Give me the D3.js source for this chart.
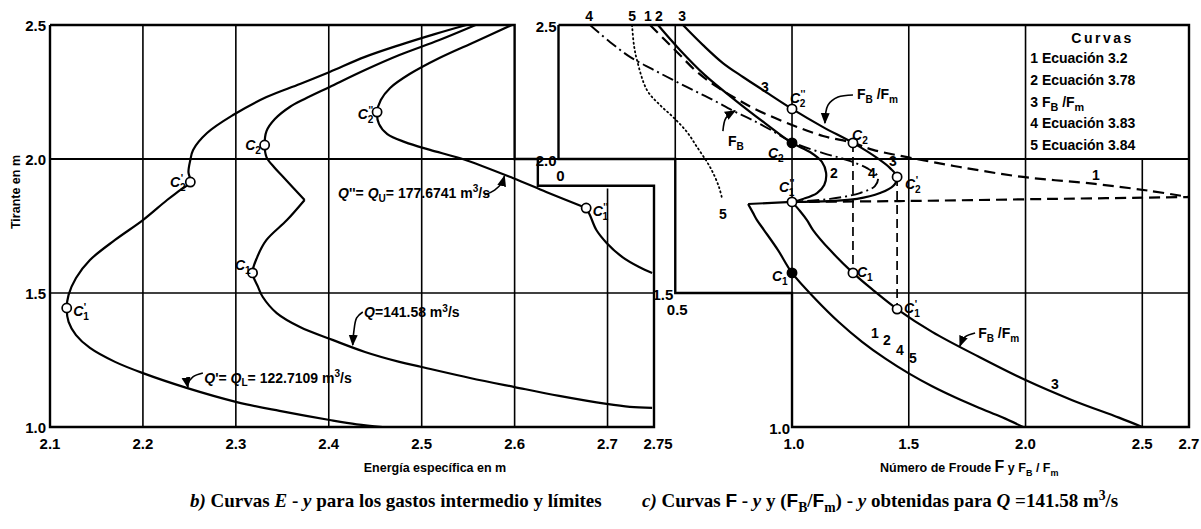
<!DOCTYPE html>
<html>
<head>
<meta charset="utf-8">
<script src="https://cdn.jsdelivr.net/npm/d3@7"></script>
<style>
  body { margin: 0; background: #fff; }
  svg { display: block; }
  .lbl { font-family: 'Liberation Sans', Arial, sans-serif; font-weight: bold; font-size: 15px; fill: #000; }
  .note { font-family: 'Liberation Sans', Arial, sans-serif; font-weight: bold; font-size: 14px; fill: #000; }
  .cap { font-family: 'Liberation Serif', 'Times New Roman', serif; font-weight: bold; font-size: 19px; fill: #000; }
  .ttl { font-family: 'Liberation Sans', Arial, sans-serif; font-weight: bold; font-size: 12.5px; fill: #000; }
</style>
</head>
<body>
<svg id="chart" width="1201" height="529"></svg>
<script>
// ---------- b) E - y curves  [E, y]
var energyTicks = [2.1, 2.2, 2.3, 2.4, 2.5, 2.6, 2.7, 2.75];
var depthTicks = [1.0, 1.5, 2.0, 2.5];

// Q' = QL = 122.7109 m3/s
var curveQL = [[2.548,2.5],[2.514,2.466],[2.476,2.425],[2.439,2.381],[2.401,2.325],[2.369,2.280],
  [2.333,2.231],[2.297,2.164],[2.269,2.097],[2.254,2.034],[2.251,1.996],[2.249,1.951],[2.251,1.914],
  [2.240,1.884],[2.226,1.847],[2.200,1.772],[2.170,1.698],[2.143,1.623],[2.128,1.556],[2.120,1.493],
  [2.118,1.444],[2.120,1.392],[2.128,1.343],[2.143,1.295],[2.170,1.243],[2.200,1.201],[2.247,1.146],
  [2.301,1.093],[2.347,1.060],[2.401,1.026],[2.430,1.010],[2.458,1.0]];
// Q = 141.58 m3/s (upper part ends at the break)
var curveQUp = [[2.558,2.5],[2.519,2.444],[2.476,2.388],[2.439,2.332],[2.401,2.269],[2.374,2.224],
  [2.358,2.194],[2.342,2.149],[2.333,2.104],[2.331,2.052],[2.333,2.007],[2.341,1.970],[2.351,1.933],
  [2.374,1.847]];
var curveQLow = [[2.374,1.847],[2.355,1.772],[2.333,1.698],[2.323,1.634],[2.318,1.575],[2.324,1.522],
  [2.329,1.485],[2.344,1.425],[2.369,1.373],[2.404,1.325],[2.439,1.280],[2.476,1.243],[2.500,1.224],
  [2.552,1.183],[2.600,1.149],[2.648,1.116],[2.699,1.086],[2.724,1.075],[2.748,1.071]];
// Q'' = QU = 177.6741 m3/s
var curveQU = [[2.597,2.5],[2.557,2.437],[2.519,2.377],[2.487,2.317],[2.466,2.265],[2.456,2.220],
  [2.452,2.175],[2.454,2.131],[2.463,2.093],[2.482,2.063],[2.509,2.034],[2.544,2.0],[2.598,1.929],
  [2.634,1.877],[2.677,1.817]];
var curveQUDown = [[2.677,1.817],[2.681,1.791],[2.688,1.735],[2.699,1.687],[2.716,1.634],
  [2.734,1.597],[2.748,1.575]];
var pointsE = [[2.251,1.914],[2.331,2.052],[2.452,2.175],[2.118,1.444],[2.318,1.575],[2.677,1.817]];

// ---------- c) F - y curves  [F, y]
var froudeTicks = [1.5, 2.0, 2.5, 2.7];
var curve1 = [[0.392,2.5],[0.456,2.444],[0.520,2.388],[0.593,2.325],[0.679,2.269],[0.764,2.224],
  [0.850,2.183],[1.0,2.127],[1.133,2.086],[1.261,2.060],[1.347,2.034],[1.493,2.007],[1.719,1.970],
  [1.989,1.933],[2.298,1.907],[2.533,1.881],[2.7,1.858]];
var curve1Low = [[1.0,1.840],[1.463,1.843],[2.105,1.851],[2.7,1.858]];
var curve2 = [[0.426,2.5],[0.520,2.407],[0.627,2.313],[0.756,2.220],[0.884,2.134],[1.0,2.060],
  [1.077,2.026],[1.128,1.989],[1.146,1.948],[1.138,1.903],[1.107,1.873],[1.047,1.851],[1.0,1.840]];
var curve3 = [[0.533,2.5],[0.619,2.425],[0.704,2.358],[0.790,2.306],[0.876,2.257],[1.0,2.187],
  [1.133,2.119],[1.261,2.060],[1.364,2.004],[1.420,1.966],[1.450,1.933],[1.433,1.899],[1.377,1.873],
  [1.278,1.851],[1.163,1.843],[1.0,1.840]];
var curve3Low = [[1.0,1.840],[1.034,1.806],[1.064,1.772],[1.090,1.735],[1.163,1.660],[1.261,1.575],
  [1.347,1.511],[1.450,1.440],[1.6,1.355],[1.8,1.262],[2.0,1.175],[2.2,1.100],[2.4,1.035],[2.5,1.0]];
var curve4 = [[0.135,2.5],[0.220,2.437],[0.306,2.381],[0.400,2.336],[0.490,2.295],[0.576,2.257],
  [0.662,2.220],[0.747,2.180],[0.820,2.150],[0.906,2.110],[1.0,2.063],[1.133,2.022],[1.236,1.996],
  [1.321,1.966],[1.368,1.933],[1.355,1.899],[1.291,1.873],[1.163,1.851],[1.0,1.840]];
var curve5 = [[0.315,2.5],[0.323,2.425],[0.336,2.369],[0.379,2.257],[0.435,2.201],[0.490,2.157],
  [0.550,2.101],[0.593,2.045],[0.636,1.989],[0.662,1.948],[0.687,1.896],[0.700,1.854]];
// curves 1, 2, 4, 5 below the bank level
var curveSub = [[0.812,1.832],[0.833,1.799],[0.850,1.772],[0.880,1.735],[0.940,1.660],[1.0,1.575],
  [1.1,1.478],[1.2,1.392],[1.3,1.318],[1.4,1.255],[1.5,1.200],[1.6,1.152],[1.7,1.110],[1.8,1.072],
  [1.9,1.036],[1.99,1.0]];
var curveStep = [[0.812,1.832],[1.0,1.840]];
var openF = [[1.0,2.187],[1.261,2.060],[1.45,1.933],[1.0,1.840],[1.261,1.575],[1.45,1.44]];
var filledF = [[1.0,2.060],[1.0,1.575]];
var dropF = [[1.261,2.060,1.575],[1.45,1.933,1.44]];
var legendItems = ['1 Ecuación 3.2', '2 Ecuación 3.78', '3', '4 Ecuación 3.83', '5 Ecuación 3.84'];

// ---------- scales
var xE = d3.scaleLinear().domain([2.1, 2.75]).range([50, 654]);
var xF = d3.scaleLinear().domain([0, 2.7]).range([558.5, 1189]);
var yD = d3.scaleLinear().domain([1.0, 2.5]).range([427, 25]);

var svg = d3.select('#chart');
svg.append('rect').attr('width', 1201).attr('height', 529).attr('fill', '#fff');

var defs = svg.append('defs');
defs.append('marker').attr('id', 'arr').attr('viewBox', '0 0 10 10').attr('refX', 9).attr('refY', 5)
  .attr('markerWidth', 7).attr('markerHeight', 7).attr('orient', 'auto')
  .append('path').attr('d', 'M0,1 L10,5 L0,9 Z').attr('fill', '#000');

function pathOf(sx) {
  return d3.line().x(function(d){ return sx(d[0]); }).y(function(d){ return yD(d[1]); });
}
function smoothOf(sx) {
  return pathOf(sx).curve(d3.curveCatmullRom.alpha(0.5));
}
var lineE = pathOf(xE), lineF = pathOf(xF), smE = smoothOf(xE), smF = smoothOf(xF);

var frame = svg.append('g').attr('fill', 'none').attr('stroke', '#000');

// left panel frame with the notch at the top right
frame.append('path').attr('stroke-width', 2.4)
  .attr('d', lineE([[2.1,2.5],[2.6,2.5],[2.6,2.0],[2.625,2.0],[2.625,1.9],[2.75,1.9],[2.75,1.0],[2.1,1.0],[2.1,2.5]]));
[2.2, 2.3, 2.4, 2.5].forEach(function(e){
  frame.append('line').attr('stroke-width', 1.6).attr('x1', xE(e)).attr('x2', xE(e)).attr('y1', yD(1)).attr('y2', yD(2.5));
});
frame.append('line').attr('stroke-width', 1.6).attr('x1', xE(2.6)).attr('x2', xE(2.6)).attr('y1', yD(1)).attr('y2', yD(2.0));
frame.append('line').attr('stroke-width', 1.6).attr('x1', xE(2.7)).attr('x2', xE(2.7)).attr('y1', yD(1)).attr('y2', yD(1.89));
frame.append('line').attr('stroke-width', 1.8).attr('x1', xE(2.1)).attr('x2', xF(0)).attr('y1', yD(2.0)).attr('y2', yD(2.0));
frame.append('line').attr('stroke-width', 1.6).attr('x1', xE(2.1)).attr('x2', xE(2.75)).attr('y1', yD(1.5)).attr('y2', yD(1.5));

// right panel frame, stepped on its left side
frame.append('path').attr('stroke-width', 2.4)
  .attr('d', lineF([[0,2.5],[2.7,2.5],[2.7,1.0],[1.0,1.0],[1.0,1.5],[0.5,1.5],[0.5,2.0],[0,2.0],[0,2.5]]));
frame.append('line').attr('stroke-width', 1.8).attr('x1', xF(0)).attr('x2', xF(2.7)).attr('y1', yD(2.0)).attr('y2', yD(2.0));
frame.append('line').attr('stroke-width', 1.6).attr('x1', xF(0.5)).attr('x2', xF(2.7)).attr('y1', yD(1.5)).attr('y2', yD(1.5));
[[0.5,2.0,2.5],[1.0,1.5,2.5],[1.5,1.0,2.5],[2.0,1.0,2.5],[2.5,1.0,2.0]].forEach(function(g){
  frame.append('line').attr('stroke-width', 1.6).attr('x1', xF(g[0])).attr('x2', xF(g[0])).attr('y1', yD(g[1])).attr('y2', yD(g[2]));
});

// ---------- curves
var curves = svg.append('g').attr('fill', 'none').attr('stroke', '#000').attr('stroke-width', 2.2)
  .attr('stroke-linejoin', 'round');
[curveQL, curveQUp, curveQLow, curveQU, curveQUDown].forEach(function(c){
  curves.append('path').attr('d', smE(c));
});
curves.append('path').attr('d', smF(curve1)).attr('stroke-dasharray', '11,6');
curves.append('path').attr('d', smF(curve1Low)).attr('stroke-dasharray', '11,6');
curves.append('path').attr('d', smF(curve2));
curves.append('path').attr('d', smF(curve3));
curves.append('path').attr('d', smF(curve3Low));
curves.append('path').attr('d', smF(curve4)).attr('stroke-dasharray', '12,4,2,4').attr('stroke-width', 1.9);
curves.append('path').attr('d', smF(curve5)).attr('stroke-dasharray', '1.2,3.2').attr('stroke-linecap', 'round').attr('stroke-width', 1.8);
curves.append('path').attr('d', smF(curveSub));
curves.append('path').attr('d', lineF(curveStep));
dropF.forEach(function(d){
  curves.append('line').attr('stroke-width', 1.7).attr('stroke-dasharray', '9,5')
    .attr('x1', xF(d[0])).attr('x2', xF(d[0])).attr('y1', yD(d[1])).attr('y2', yD(d[2]));
});

// points
var pts = svg.append('g').attr('stroke', '#000').attr('stroke-width', 1.7);
pointsE.forEach(function(p){
  pts.append('circle').attr('cx', xE(p[0])).attr('cy', yD(p[1])).attr('r', 4.6).attr('fill', '#fff');
});
openF.forEach(function(p){
  pts.append('circle').attr('cx', xF(p[0])).attr('cy', yD(p[1])).attr('r', 4.6).attr('fill', '#fff');
});
filledF.forEach(function(p){
  pts.append('circle').attr('cx', xF(p[0])).attr('cy', yD(p[1])).attr('r', 4.6).attr('fill', '#000');
});

// ---------- text helpers
function rich(g, x, y, parts, cls, anchor, size) {
  var t = g.append('text').attr('x', x).attr('y', y).attr('class', cls).attr('text-anchor', anchor || 'start');
  size = size || 15;
  var shift = 0;
  parts.forEach(function(p){
    var s = t.append('tspan').text(p.t);
    var want = p.sub ? size * 0.28 : p.sup ? -size * 0.38 : 0;
    if (want !== shift) { s.attr('dy', want - shift); shift = want; }
    if (p.sub || p.sup) s.attr('font-size', (size * 0.72) + 'px');
    if (p.i) s.attr('font-style', 'italic');
    if (p.dx) s.attr('dx', p.dx);
    if (p.f) s.attr('font-family', p.f);
    if (p.w) s.attr('font-weight', p.w);
  });
  return t;
}
function n(s){ return {t: s}; }
function it(s){ return {t: s, i: true}; }
function sub(s, dx){ return {t: s, sub: true, dx: dx}; }
function sup(s, dx){ return {t: s, sup: true, dx: dx}; }
function cLabel(idx, primes) {
  var parts = [it('C')];
  if (primes) { parts.push(sup(primes, 0.5)); parts.push(sub(idx, primes.length > 1 ? -5.5 : -3)); }
  else parts.push(sub(idx));
  return parts;
}

var txt = svg.append('g');

// tick labels, panel b
depthTicks.forEach(function(v){
  txt.append('text').attr('class', 'lbl').attr('x', xE(2.1) - 4).attr('y', yD(v) + 6)
    .attr('text-anchor', 'end').text(v.toFixed(1));
});
energyTicks.forEach(function(v){
  txt.append('text').attr('class', 'lbl').attr('x', xE(v) + (v === 2.75 ? 4 : 0)).attr('y', yD(1) + 22)
    .attr('text-anchor', 'middle').text(v === 2.75 ? '2.75' : v.toFixed(1));
});
// tick labels, panel c
[[0,2.5],[0,2.0],[0.5,1.5],[1.0,1.0]].forEach(function(t){
  txt.append('text').attr('class', 'lbl').attr('x', xF(t[0]) - 2).attr('y', yD(t[1]) + 7)
    .attr('text-anchor', 'end').text(t[1].toFixed(1));
});
[[0,2.0,'0'],[0.5,1.5,'0.5'],[1.0,1.0,'1.0']].forEach(function(t){
  txt.append('text').attr('class', 'lbl').attr('x', xF(t[0]) + 2).attr('y', yD(t[1]) + 22)
    .attr('text-anchor', 'middle').text(t[2]);
});
froudeTicks.forEach(function(v){
  txt.append('text').attr('class', 'lbl').attr('x', xF(v)).attr('y', yD(1) + 22)
    .attr('text-anchor', 'middle').text(v.toFixed(1));
});

// axis titles and captions
txt.append('text').attr('class', 'ttl').attr('font-size', '15px')
  .attr('transform', 'translate(20,192) rotate(-90)').attr('text-anchor', 'middle').text('Tirante en m');
txt.append('text').attr('class', 'ttl').attr('x', 435).attr('y', 472).attr('text-anchor', 'middle')
  .text('Energía específica en m');
rich(txt, 880, 472, [n('Número de Froude  '), {t: 'F', w: 'bold'}, n('  y  F'), sub('B'), n(' / F'), sub('m')], 'ttl', 'start', 12.5)
  .selectAll('tspan').filter(function(d, i){ return i === 1; }).attr('font-size', '16px');
rich(txt, 190, 507, [it('b)'), n('   Curvas '), it('E'), n(' - '), it('y'), n(' para los gastos intermedio y límites')], 'cap', 'start', 19);
rich(txt, 642, 507, [it('c)'), n(' Curvas '), {t: 'F', f: 'Liberation Sans'}, n(' - '), it('y'), n('  y ('),
  {t: 'F', f: 'Liberation Sans'}, sub('B'), n('/'), {t: 'F', f: 'Liberation Sans'}, sub('m'), n(') - '), it('y'),
  n(' obtenidas para  '), it('Q'), n(' =141.58 m'), sup('3'), n('/s')], 'cap', 'start', 19);

// point and curve labels, panel b
var notesE = [
  {at: [2.246, 1.896], a: 'end', p: cLabel('2', "'")},
  {at: [2.327, 2.034], a: 'end', p: cLabel('2')},
  {at: [2.448, 2.149], a: 'end', p: cLabel('2', "''")},
  {at: [2.684, 1.787], a: 'start', p: cLabel('1', "''")},
  {at: [2.316, 1.586], a: 'end', p: cLabel('1')},
  {at: [2.125, 1.414], a: 'start', p: cLabel('1', "'")},
  {at: [2.266, 1.166], a: 'start', p: [it('Q'), n("'= "), it('Q'), sub('L'), n('= 122.7109 m'), sup('3'), n('/s')]},
  {at: [2.438, 1.409], a: 'start', p: [it('Q'), n('=141.58 m'), sup('3'), n('/s')]},
  {at: [2.410, 1.856], a: 'start', p: [it('Q'), n("''= "), it('Q'), sub('U'), n('= 177.6741 m'), sup('3'), n('/s')]}
];
notesE.forEach(function(o){ rich(txt, xE(o.at[0]), yD(o.at[1]), o.p, 'note', o.a, 14); });

var leadersE = [
  [[2.2645,1.2015],[2.2538,1.187],[2.2484,1.160],[2.2484,1.148]],
  [[2.4366,1.429],[2.430,1.407],[2.4269,1.354],[2.4258,1.306]],
  [[2.5677,1.866],[2.5785,1.884],[2.586,1.910],[2.589,1.936]]
];
leadersE.forEach(function(l){
  curves.append('path').attr('d', smE(l)).attr('stroke-width', 1.6).attr('marker-end', 'url(#arr)');
});

// point and curve labels, panel c
var notesF = [
  {at: [0.991, 2.209], a: 'start', p: cLabel('2', "''")},
  {at: [1.278, 2.224], a: 'start', p: [n('F'), sub('B'), n(' /F'), sub('m')]},
  {at: [1.257, 2.071], a: 'start', p: cLabel('2')},
  {at: [0.726, 2.049], a: 'start', p: [n('F'), sub('B')]},
  {at: [0.897, 2.004], a: 'start', p: cLabel('2')},
  {at: [1.163, 1.929], a: 'start', p: [n('2')]},
  {at: [1.325, 1.929], a: 'start', p: [n('4')]},
  {at: [1.415, 1.974], a: 'start', p: [n('3')]},
  {at: [1.484, 1.888], a: 'start', p: cLabel('2', "'")},
  {at: [0.944, 1.877], a: 'start', p: cLabel('1', "''")},
  {at: [0.687, 1.776], a: 'start', p: [n('5')]},
  {at: [2.285, 1.922], a: 'start', p: [n('1')]},
  {at: [0.867, 2.250], a: 'start', p: [n('3')]},
  {at: [0.914, 1.545], a: 'start', p: cLabel('1')},
  {at: [1.278, 1.560], a: 'start', p: cLabel('1')},
  {at: [1.480, 1.425], a: 'start', p: cLabel('1', "'")},
  {at: [1.338, 1.332], a: 'start', p: [n('1')]},
  {at: [1.390, 1.306], a: 'start', p: [n('2')]},
  {at: [1.445, 1.269], a: 'start', p: [n('4')]},
  {at: [1.501, 1.239], a: 'start', p: [n('5')]},
  {at: [1.797, 1.332], a: 'start', p: [n('F'), sub('B'), n(' /F'), sub('m')]},
  {at: [2.109, 1.142], a: 'start', p: [n('3')]}
];
notesF.forEach(function(o){ rich(txt, xF(o.at[0]), yD(o.at[1]), o.p, 'note', o.a, 14); });

// numbers at the top of panel c
[[0.131,'4'],[0.315,'5'],[0.383,'1'],[0.430,'2'],[0.529,'3']].forEach(function(t){
  txt.append('text').attr('class', 'note').attr('x', xF(t[0])).attr('y', yD(2.5) - 4)
    .attr('text-anchor', 'middle').text(t[1]);
});

var leadersF = [
  [[1.261,2.239],[1.197,2.231],[1.154,2.201],[1.141,2.134]],
  [[0.704,2.104],[0.717,2.153],[0.756,2.180]],
  [[1.784,1.351],[1.741,1.336],[1.719,1.302]]
];
leadersF.forEach(function(l){
  curves.append('path').attr('d', smF(l)).attr('stroke-width', 1.6).attr('marker-end', 'url(#arr)');
});

// legend box (upper right cell)
var leg = txt.append('g');
leg.append('text').attr('class', 'note').attr('x', xF(2.33)).attr('y', yD(2.5) + 18)
  .attr('text-anchor', 'middle').attr('letter-spacing', '2.5px').text('Curvas');
legendItems.forEach(function(s, i){
  var yy = yD(2.5) + 38 + i * 21.8;
  if (s === '3') rich(leg, xF(2.02), yy, [n('3  F'), sub('B'), n(' /F'), sub('m')], 'note', 'start', 15);
  else leg.append('text').attr('class', 'note').attr('font-size', '15px').attr('x', xF(2.02)).attr('y', yy).text(s);
});
</script>
</body>
</html>
